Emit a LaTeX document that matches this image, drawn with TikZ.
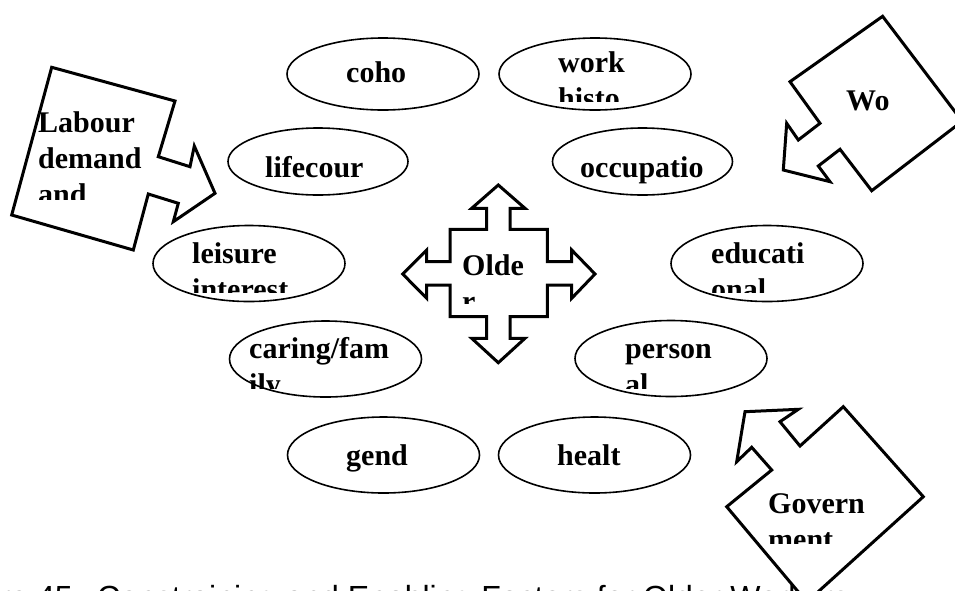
\documentclass[tikz,border=0pt]{standalone}
\usepackage{fontspec}
\setmainfont{Liberation Serif}
\newfontfamily\capfont{Liberation Sans}
\usetikzlibrary{shapes.geometric}
\tikzset{
  factor/.style  = {ellipse, draw, line width=1.6pt, minimum width=#1, minimum height=76pt, inner sep=0pt},
  factor/.default= 192pt,
  lbl/.style     = {font=\bfseries\fontsize{30}{36}\selectfont, align=left, anchor=base west, inner sep=0pt},
  block/.style   = {draw, fill=white, line width=3pt, line join=miter},
  caption/.style = {font=\capfont\fontsize{32}{38}\selectfont, anchor=base west, inner sep=0pt},
}
% text cut off below a given height (position = baseline of last line)
\newcommand{\cutlabel}[4]{%
  \begin{scope}
    \clip (0,0) rectangle (955,#3);
    \node[lbl] (#1) at (#2) {#4};
  \end{scope}}

\begin{document}
\begin{tikzpicture}[x=1pt, y=-1pt]
  \clip (0,0) rectangle (955,590);

  \node[caption] (cap) at (-62.6,608) {Figure 45:\hspace{15.5pt}Constraining and Enabling Factors for Older Workers};

  % factors
  \node[factor, minimum height=72pt] (cohort) at (383,74) {};
  \node[factor, minimum height=72pt] (workhist) at (595,74) {};
  \node[factor=180pt, minimum height=67pt] (lifecourse) at (318,161.5) {};
  \node[factor=180pt, minimum height=67pt] (occupation) at (642.5,161.5) {};
  \node[factor] (leisure) at (249,263.5) {};
  \node[factor] (educational) at (767,263.5) {};
  \node[factor] (caring) at (325.5,359) {};
  \node[factor] (personal) at (671,358.5) {};
  \node[factor] (gender) at (383.5,455) {};
  \node[factor] (health) at (594.5,455) {};

  \node[lbl] (cohort-t) at (346,82) {coho};
  \cutlabel{workhist-t}{558,108}{101}{work\\histo}
  \node[lbl] (lifecourse-t) at (265,177) {lifecour};
  \node[lbl] (occupation-t) at (580,177) {occupatio};
  \cutlabel{leisure-t}{192,299}{292}{leisure\\interest}
  \cutlabel{educational-t}{711,299}{292}{educati\\onal}
  \cutlabel{caring-t}{249,394}{388}{caring/fam\\ily}
  \cutlabel{personal-t}{625,394}{388}{person\\al}
  \node[lbl] (gender-t) at (346,465) {gend};
  \node[lbl] (health-t) at (557,465) {healt};

  % older workers in the middle
  \draw[block] (498.3,185) -- (525,208.3) -- (510,208.3) -- (510,229.3) -- (547.3,229.3)
    -- (547.3,261.7) -- (571.7,261.7) -- (571.7,250) -- (595,274) -- (571.7,298.3)
    -- (571.7,285) -- (547.3,285) -- (547.3,316.7) -- (510,316.7) -- (510,338.3)
    -- (525,338.3) -- (498.3,362.7) -- (471.7,338.3) -- (486.7,338.3) -- (486.7,316.7)
    -- (450,316.7) -- (450,285) -- (426.7,285) -- (426.7,298.3) -- (402.7,274)
    -- (426.7,250) -- (426.7,261.7) -- (450,261.7) -- (450,229.3) -- (486.7,229.3)
    -- (486.7,208.3) -- (471.7,208.3) -- cycle;
  \cutlabel{older-t}{462,311}{303}{Olde\\r}

  % labour demand
  \draw[block] (51.7,67.3) -- (175,101) -- (158.3,156.7) -- (190,166.7) -- (194.3,146)
    -- (215,193.3) -- (173.3,221.7) -- (178.3,203.3) -- (148.3,194) -- (133.3,250)
    -- (11.7,215) -- cycle;
  \cutlabel{labour-t}{38,204}{199}{Labour\\demand\\and}

  % work
  \draw[block] (882.6,16.3) -- (962.2,121.2) -- (871.7,190.7) -- (840,149.3) -- (818.3,166)
    -- (830,181.7) -- (783.3,170) -- (786.7,123.3) -- (798.3,140) -- (820,123.3)
    -- (790,81.7) -- cycle;
  \node[lbl] (work-t) at (846,110) {Wo};

  % government
  \draw[block] (843.3,406.7) -- (923.3,496.7) -- (806.8,602) -- (726.7,506.7) -- (771.7,470)
    -- (751.7,447.3) -- (736.7,461.7) -- (745,411.7) -- (798.3,409.3) -- (780,421.7)
    -- (800,446) -- cycle;
  \cutlabel{govt-t}{768,549}{543}{Govern\\ment}
\end{tikzpicture}
\end{document}
